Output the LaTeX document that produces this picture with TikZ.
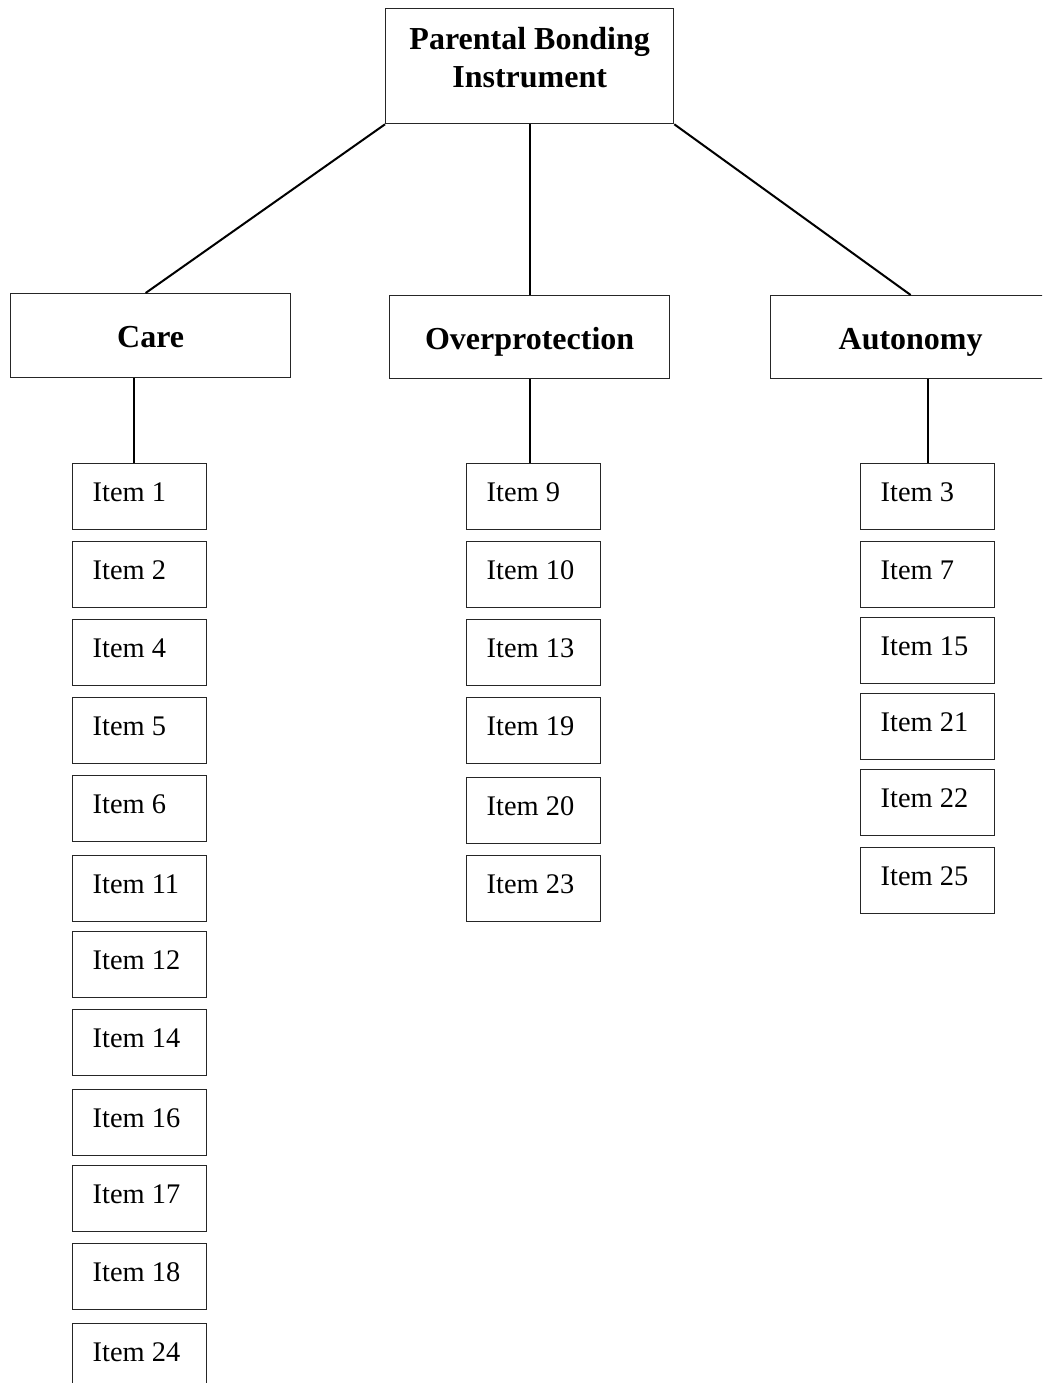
\documentclass[tikz,border=0pt]{standalone}
\usepackage{fontspec}
\setmainfont{Liberation Serif}
\usetikzlibrary{calc}
\begin{document}
\begin{tikzpicture}[x=1pt,y=-1pt,
  box/.style={draw=black!85,line width=1.3pt,rectangle,anchor=north west,inner sep=0pt},
  head/.style={box,minimum width=280pt,font=\fontsize{32}{38}\selectfont\bfseries,text height=24pt,text depth=0pt},
  item/.style={box,minimum width=134pt,minimum height=66pt,font=\fontsize{28.4}{34}\selectfont,
     text height=19pt,text depth=9pt,
     execute at begin node={\hbox to 134pt\bgroup\hskip20pt},
     execute at end node={\hfil\egroup}},
  link/.style={line width=2pt,black}]
\clip (0,0) rectangle (1042,1383);
\fill[white] (0,0) rectangle (1042,1383);
% top
\node[box,minimum width=288pt,minimum height=115pt,align=center,font=\fontsize{32}{38}\selectfont\bfseries]
  (pbi) at (385,8) {Parental Bonding\\Instrument\rule[-17pt]{0pt}{0pt}};
% headers
\node[head,minimum height=84pt] (care) at (10,293) {Care};
\node[head,minimum height=83pt] (over) at (389,295) {Overprotection};
\node[head,minimum height=83pt,minimum width=280pt] (aut) at (770,295) {Autonomy};
% care items
\node[item] (c1) at (72,463) {Item 1};
\node[item] (c2) at (72,541) {Item 2};
\node[item] (c4) at (72,619) {Item 4};
\node[item] (c5) at (72,697) {Item 5};
\node[item] (c6) at (72,775) {Item 6};
\node[item] (c11) at (72,855) {Item 11};
\node[item] (c12) at (72,931) {Item 12};
\node[item] (c14) at (72,1009) {Item 14};
\node[item] (c16) at (72,1089) {Item 16};
\node[item] (c17) at (72,1165) {Item 17};
\node[item] (c18) at (72,1243) {Item 18};
\node[item] (c24) at (72,1323) {Item 24};
% overprotection items
\node[item] (o9) at (466,463) {Item 9};
\node[item] (o10) at (466,541) {Item 10};
\node[item] (o13) at (466,619) {Item 13};
\node[item] (o19) at (466,697) {Item 19};
\node[item] (o20) at (466,777) {Item 20};
\node[item] (o23) at (466,855) {Item 23};
% autonomy items
\node[item] (a3) at (860,463) {Item 3};
\node[item] (a7) at (860,541) {Item 7};
\node[item] (a15) at (860,617) {Item 15};
\node[item] (a21) at (860,693) {Item 21};
\node[item] (a22) at (860,769) {Item 22};
\node[item] (a25) at (860,847) {Item 25};
% connectors
\draw[link] (pbi.south west) -- ([xshift=-5pt]care.north);
\draw[link] (pbi.south) -- (pbi.south |- over.north);
\draw[link] (pbi.south east) -- (aut.north);
\draw[link] ([xshift=-17pt]care.south) -- ([xshift=-17pt]care.south |- c1.north);
\draw[link] (over.south) -- (over.south |- o9.north);
\draw[link] (aut.south -| a3.north) -- (a3.north);
\end{tikzpicture}
\end{document}
